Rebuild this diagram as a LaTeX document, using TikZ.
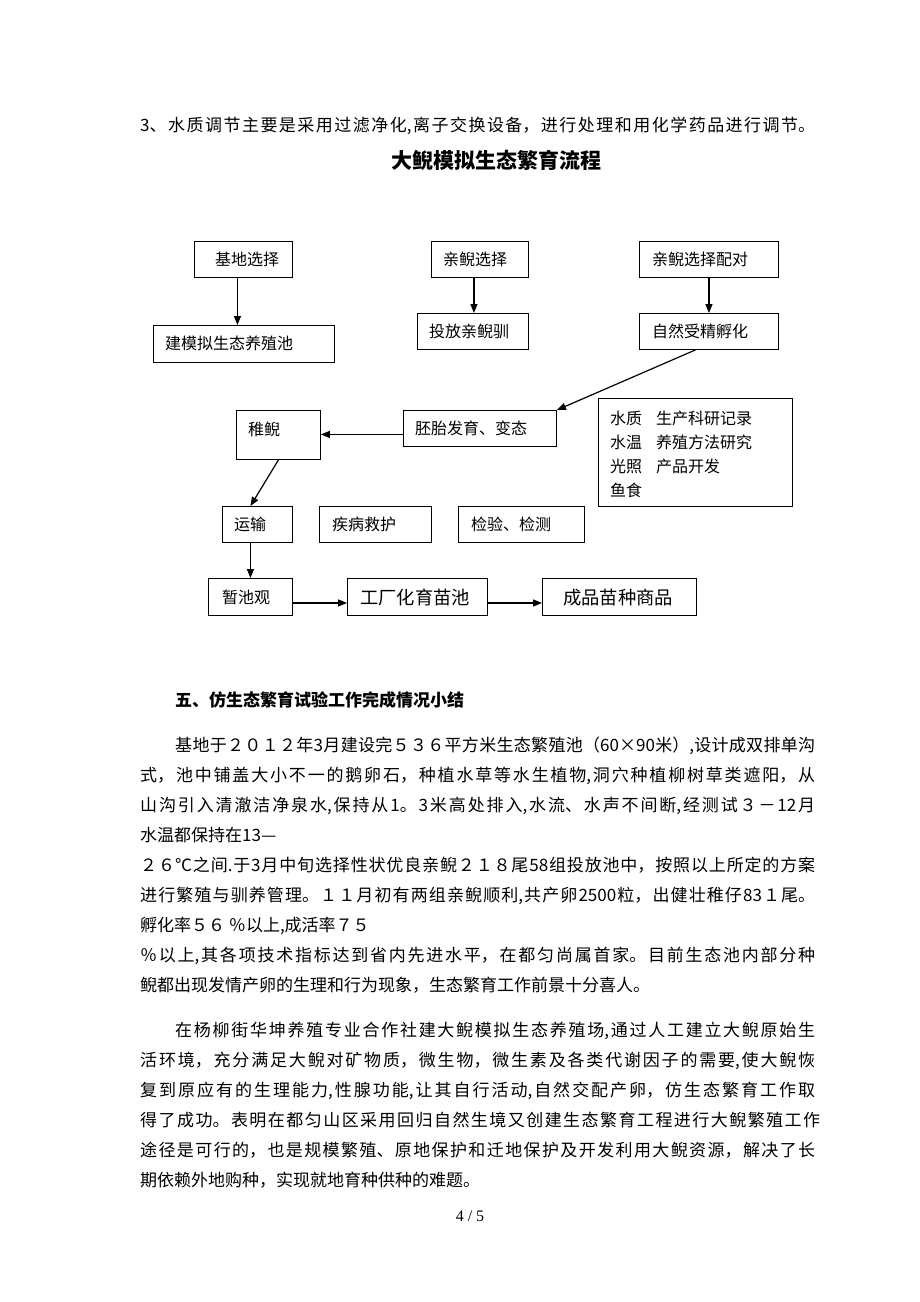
\documentclass[tikz,border=0pt]{standalone}
\usepackage{fontspec}
\setmainfont{Noto Sans CJK SC}
\newfontfamily\serifnum{Liberation Serif}
\usetikzlibrary{arrows.meta,calc}
\newcommand\fs[1]{\fontsize{#1}{#1}\selectfont}
\newcommand\jst{\parindent=0pt\parfillskip=0pt\XeTeXlinebreaklocale "zh"\XeTeXlinebreakskip=0pt plus 1fil\relax}
\tikzset{
  box/.style={draw=black,line width=0.9pt,inner sep=0pt,anchor=north west},
  ftxt/.style={anchor=base west,inner sep=0pt,font=\fs{16}},
  btxt/.style={anchor=base west,inner sep=0pt,font=\fs{17}},
  arr/.style={line width=1.2pt,-{Triangle[length=9pt,width=7pt]}},
}
% justified body line: name, x, baseline y, width, text
\newcommand\jl[5]{\node[anchor=base west,inner sep=0pt] (#1) at (#2,#3) {\parbox[b]{#4pt}{\jst\fs{17}#5}};}
\newcommand\pl[4]{\node[btxt] (#1) at (#2,#3) {#4};}
\begin{document}
\begin{tikzpicture}[x=1pt,y=-1pt]
\fill[white] (0,0) rectangle (920,1302);
\useasboundingbox (0,0) rectangle (920,1302);

% top line and title
\jl{h3}{140}{131.5}{675}{3、水质调节主要是采用过滤净化,离子交换设备，进行处理和用化学药品进行调节。}
\node[anchor=base,inner sep=0pt,font=\fs{21}\bfseries] (title) at (496,168) {大鲵模拟生态繁育流程};

% flowchart boxes
\node[box,minimum width=98pt,minimum height=36pt] (b1) at (194,241) {};
\node[box,minimum width=181pt,minimum height=37pt] (b2) at (153,325) {};
\node[box,minimum width=97pt,minimum height=36pt] (b3) at (431,241) {};
\node[box,minimum width=111pt,minimum height=36pt] (b4) at (417,313) {};
\node[box,minimum width=139pt,minimum height=36pt] (b5) at (639,241) {};
\node[box,minimum width=139pt,minimum height=36pt] (b6) at (639,313) {};
\node[box,minimum width=153pt,minimum height=36pt] (b7) at (403,410) {};
\node[box,minimum width=84pt,minimum height=49pt] (b8) at (236,410) {};
\node[box,minimum width=194pt,minimum height=108pt] (b9) at (598,398) {};
\node[box,minimum width=70pt,minimum height=36pt] (b10) at (222,506) {};
\node[box,minimum width=112pt,minimum height=36pt] (b11) at (319,506) {};
\node[box,minimum width=126pt,minimum height=36pt] (b12) at (458,506) {};
\node[box,minimum width=84pt,minimum height=37pt] (b13) at (208,578) {};
\node[box,minimum width=140pt,minimum height=37pt] (b14) at (347,578) {};
\node[box,minimum width=154pt,minimum height=37pt] (b15) at (542,578) {};

% box texts
\node[ftxt] (t1) at (215,265) {基地选择};
\node[ftxt] (t2) at (165,349.5) {建模拟生态养殖池};
\node[ftxt] (t3) at (443,265) {亲鲵选择};
\node[ftxt] (t4) at (429,337) {投放亲鲵驯};
\node[ftxt] (t5) at (652,265) {亲鲵选择配对};
\node[ftxt] (t6) at (652,337) {自然受精孵化};
\node[ftxt] (t7) at (415,434) {胚胎发育、变态};
\node[ftxt] (t8) at (248,435) {稚鲵};
\node[ftxt] (t9a) at (610,424) {水质};
\node[ftxt] (t9b) at (656,424) {生产科研记录};
\node[ftxt] (t9c) at (610,448) {水温};
\node[ftxt] (t9d) at (656,448) {养殖方法研究};
\node[ftxt] (t9e) at (610,472) {光照};
\node[ftxt] (t9f) at (656,472) {产品开发};
\node[ftxt] (t9g) at (610,496) {鱼食};
\node[ftxt] (t10) at (234,530) {运输};
\node[ftxt] (t11) at (332,530) {疾病救护};
\node[ftxt] (t12) at (471,530) {检验、检测};
\node[ftxt] (t13) at (222,603) {暂池观};
\node[ftxt,font=\fs{18.3}] (t14) at (360,604) {工厂化育苗池};
\node[ftxt,font=\fs{18.3}] (t15) at (563,604) {成品苗种商品};

% connectors
\draw[arr] ([xshift=-6pt]b1.south) -- ([xshift=-6pt]b1.south |- b2.north);
\draw[arr] ([xshift=-6pt]b3.south) -- ([xshift=-6pt]b3.south |- b4.north);
\draw[arr] (b5.south) -- (b5.south |- b6.north);
\draw[arr] ([xshift=-13.5pt]b6.south) -- (b7.north east);
\draw[arr] ([yshift=-6pt]b7.west) -- ([yshift=-6pt]b7.west -| b8.east);
\draw[arr] (b8.south) -- ([xshift=-7pt]b10.north);
\draw[arr] ([xshift=-7pt]b10.south) -- ([xshift=-7pt]b10.south |- b13.north);
\draw[arr] ([yshift=-6pt]b13.east) -- ([yshift=-6pt]b13.east -| b14.west);
\draw[arr] ([yshift=-6pt]b14.east) -- ([yshift=-6pt]b14.east -| b15.west);

% section 5
\node[anchor=base west,inner sep=0pt,font=\fs{17}\bfseries] (h5) at (175,706.5) {五、仿生态繁育试验工作完成情况小结};

\jl{L1}{175}{751.5}{640}{基地于２０１２年3月建设完５３６平方米生态繁殖池（60×90米）,设计成双排单沟}
\jl{L2}{140}{781.5}{675}{式，池中铺盖大小不一的鹅卵石，种植水草等水生植物,洞穴种植柳树草类遮阳，从}
\jl{L3}{140}{811.5}{675}{山沟引入清澈洁净泉水,保持从1。3米高处排入,水流、水声不间断,经测试３－12月}
\pl{L4}{140}{841.5}{水温都保持在13—}
\jl{L5}{140}{871.5}{675}{２６℃之间.于3月中旬选择性状优良亲鲵２１８尾58组投放池中，按照以上所定的方案}
\jl{L6}{140}{901.5}{675}{进行繁殖与驯养管理。１１月初有两组亲鲵顺利,共产卵2500粒，出健壮稚仔83１尾。}
\pl{L7}{140}{931.5}{孵化率５６ ％以上,成活率７５}
\jl{L8}{140}{961.5}{675}{％以上,其各项技术指标达到省内先进水平，在都匀尚属首家。目前生态池内部分种}
\pl{L9}{140}{991.5}{鲵都出现发情产卵的生理和行为现象，生态繁育工作前景十分喜人。}

\jl{M1}{175}{1036.5}{640}{在杨柳街华坤养殖专业合作社建大鲵模拟生态养殖场,通过人工建立大鲵原始生}
\jl{M2}{140}{1066.5}{675}{活环境，充分满足大鲵对矿物质，微生物，微生素及各类代谢因子的需要,使大鲵恢}
\jl{M3}{140}{1096.5}{675}{复到原应有的生理能力,性腺功能,让其自行活动,自然交配产卵，仿生态繁育工作取}
\jl{M4}{140}{1126.5}{680}{得了成功。表明在都匀山区采用回归自然生境又创建生态繁育工程进行大鲵繁殖工作}
\jl{M5}{140}{1156.5}{675}{途径是可行的，也是规模繁殖、原地保护和迁地保护及开发利用大鲵资源，解决了长}
\pl{M6}{140}{1186.5}{期依赖外地购种，实现就地育种供种的难题。}

\node[anchor=base,inner sep=0pt,font=\serifnum\fs{16}] (pg) at (470,1221) {4 / 5};
\end{tikzpicture}
\end{document}
